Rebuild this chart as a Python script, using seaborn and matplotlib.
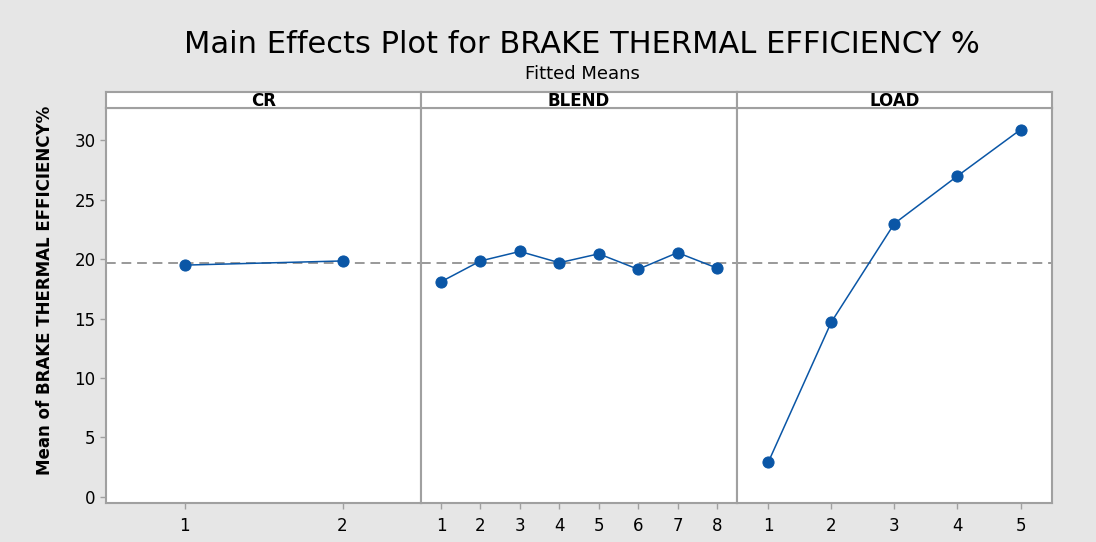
import numpy as np
import pandas as pd
import matplotlib
matplotlib.use("Agg")
import matplotlib.pyplot as plt
import seaborn as sns

# fitted means
cr_levels = [1, 2]
cr_means = [19.5, 19.85]
blend_levels = [1, 2, 3, 4, 5, 6, 7, 8]
blend_means = [18.1, 19.85, 20.65, 19.7, 20.45, 19.15, 20.55, 19.25]
load_levels = [1, 2, 3, 4, 5]
load_means = [2.9, 14.7, 23.0, 27.0, 30.9]
factors = ["CR", "BLEND", "LOAD"]
grand_mean = 19.7
y_ticks = [0, 5, 10, 15, 20, 25, 30]

df = pd.concat([
    pd.DataFrame({"factor": "CR", "level": cr_levels, "mean": cr_means}),
    pd.DataFrame({"factor": "BLEND", "level": blend_levels, "mean": blend_means}),
    pd.DataFrame({"factor": "LOAD", "level": load_levels, "mean": load_means}),
])

sns.set_theme(style="white")
plt.rcParams["font.family"] = ["DejaVu Sans"]
plt.rcParams["text.color"] = "black"
plt.rcParams["xtick.labelcolor"] = "black"
plt.rcParams["ytick.labelcolor"] = "black"
plt.rcParams["axes.labelcolor"] = "black"

bg = "#e6e6e6"
edge = "#a0a0a0"
blue = "#0a56a6"

fig, axes = plt.subplots(1, 3, sharey=True, figsize=(10.96, 5.42), dpi=100)
fig.patch.set_facecolor(bg)
fig.subplots_adjust(left=0.0967, right=0.9599, bottom=0.0714, top=0.8002, wspace=0)

for ax, name in zip(axes, factors):
    sub = df[df["factor"] == name]
    sns.lineplot(data=sub, x="level", y="mean", ax=ax, color=blue, marker="o",
                 markersize=8, markeredgecolor=blue, linewidth=1.1)
    ax.axhline(grand_mean, color="#999999", linestyle=(0, (5, 3)), linewidth=1.4, zorder=0)
    levels = sub["level"].tolist()
    ax.set_xlim(levels[0] - 0.5, levels[-1] + 0.5)
    ax.set_xticks(levels)
    ax.set_xlabel("")
    ax.set_ylabel("")
    ax.set_facecolor("white")
    for s in ax.spines.values():
        s.set_color(edge)
        s.set_linewidth(1.5)
    ax.tick_params(axis="x", length=4, width=1, color=edge, direction="out",
                   labelsize=12, pad=6, bottom=True)
    ax.tick_params(axis="y", length=4, width=1, color=edge, direction="out",
                   labelsize=12, left=(name == "CR"))

    # strip header above each panel
    pos = ax.get_position()
    strip = fig.add_axes([pos.x0, pos.y1, pos.width, 16.6 / 542])
    strip.set_facecolor("white")
    strip.set_xticks([])
    strip.set_yticks([])
    for s in strip.spines.values():
        s.set_color(edge)
        s.set_linewidth(1.5)
    strip.text(0.5, 0.45, name, ha="center", va="center", fontsize=12,
               fontweight="semibold", transform=strip.transAxes)

axes[0].set_ylim(-0.55, 32.7)
axes[0].set_yticks(y_ticks)
axes[0].set_ylabel("Mean of BRAKE THERMAL EFFICIENCY%", fontsize=12,
                   fontweight="semibold")
axes[0].yaxis.set_label_coords(-0.165, 0.54)

fig.text(0.531, 0.918, "Main Effects Plot for BRAKE THERMAL EFFICIENCY %",
         ha="center", va="center", fontsize=22)
fig.text(0.531, 0.863, "Fitted Means", ha="center", va="center", fontsize=13)

fig.savefig("out.png", dpi=100, facecolor=bg)
